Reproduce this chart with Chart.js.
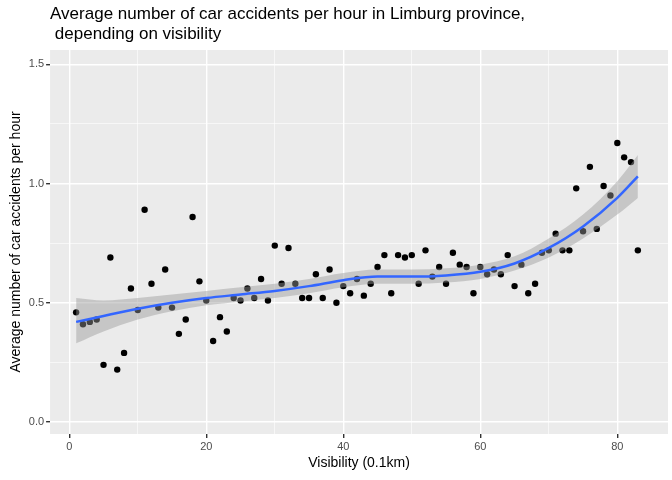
<!DOCTYPE html>
<html>
<head>
<meta charset="utf-8">
<script src="https://cdn.jsdelivr.net/npm/chart.js@4.4.0/dist/chart.umd.min.js"></script>
<style>
  body { margin: 0; background: #fff; }
  #wrap { width: 672px; height: 480px; }
</style>
</head>
<body>
<div id="wrap"><canvas id="c"></canvas></div>
<script>
// observed points: visibility (0.1km) vs average accidents per hour
const visibility = [];
for (let v = 1; v <= 83; v++) visibility.push(v);
const accidents = [0.46, 0.41, 0.42, 0.43, 0.24, 0.69, 0.22, 0.29, 0.56, 0.47,
  0.89, 0.58, 0.48, 0.64, 0.48, 0.37, 0.43, 0.86, 0.59, 0.51,
  0.34, 0.44, 0.38, 0.52, 0.51, 0.56, 0.52, 0.60, 0.51, 0.74,
  0.58, 0.73, 0.58, 0.52, 0.52, 0.62, 0.52, 0.64, 0.50, 0.57,
  0.54, 0.60, 0.53, 0.58, 0.65, 0.70, 0.54, 0.70, 0.69, 0.70,
  0.58, 0.72, 0.61, 0.65, 0.58, 0.71, 0.66, 0.65, 0.54, 0.65,
  0.62, 0.64, 0.62, 0.70, 0.57, 0.66, 0.54, 0.58, 0.71, 0.72,
  0.79, 0.72, 0.72, 0.98, 0.80, 1.07, 0.81, 0.99, 0.95, 1.17,
  1.11, 1.09, 0.72];

// loess smooth and its confidence band
const smoothX = [1, 5, 10, 15, 20, 25, 30, 35, 40, 45, 50, 55, 60, 65, 70, 75, 80, 83];
const smoothY = [0.42, 0.445, 0.475, 0.50, 0.52, 0.535, 0.55, 0.57, 0.595, 0.61, 0.61, 0.615, 0.63, 0.665, 0.73, 0.82, 0.94, 1.03];
const bandLow = [0.33, 0.38, 0.43, 0.465, 0.49, 0.505, 0.52, 0.54, 0.565, 0.58, 0.58, 0.585, 0.60, 0.635, 0.69, 0.77, 0.87, 0.94];
const bandHigh = [0.52, 0.51, 0.52, 0.535, 0.55, 0.565, 0.58, 0.60, 0.625, 0.64, 0.64, 0.645, 0.66, 0.695, 0.77, 0.87, 1.01, 1.12];
const titleLines = ['Average number of car accidents per hour in Limburg province,', ' depending on visibility'];

const pts = (xs, ys) => xs.map((x, i) => ({ x: x, y: ys[i] }));

// grey panel + title aligned with the panel, ggplot style
const panelBg = {
  id: 'panelBg',
  beforeDraw(chart) {
    const a = chart.chartArea, ctx = chart.ctx;
    ctx.save();
    ctx.fillStyle = '#EBEBEB';
    ctx.fillRect(a.left, a.top, a.right - a.left, a.bottom - a.top);
    ctx.fillStyle = '#000';
    ctx.font = '17px "Liberation Sans"';
    ctx.textBaseline = 'top';
    titleLines.forEach((t, i) => ctx.fillText(t, a.left, 6 + i * 20));
    ctx.restore();
  }
};

const isMajor = (v, step) => Math.abs(v / step - Math.round(v / step)) < 1e-6;

new Chart(document.getElementById('c'), {
  type: 'scatter',
  data: {
    datasets: [
      { data: pts(smoothX, smoothY), showLine: true, borderColor: '#3366FF', borderWidth: 2.5,
        pointRadius: 0, tension: 0.4, cubicInterpolationMode: 'monotone' },
      { data: pts(smoothX, bandLow), showLine: true, borderWidth: 0, borderColor: 'transparent',
        pointRadius: 0, tension: 0.4, cubicInterpolationMode: 'monotone' },
      { data: pts(smoothX, bandHigh), showLine: true, borderWidth: 0, borderColor: 'transparent',
        pointRadius: 0, tension: 0.4, cubicInterpolationMode: 'monotone',
        fill: '-1', backgroundColor: 'rgba(153,153,153,0.45)' },
      { data: pts(visibility, accidents), pointRadius: 3.2, pointBackgroundColor: '#000',
        pointBorderWidth: 0, borderColor: '#000' }
    ]
  },
  options: {
    responsive: true,
    maintainAspectRatio: false,
    animation: false,
    layout: { padding: { left: 4, right: 4, top: 50, bottom: 4 } },
    plugins: {
      legend: { display: false },
      tooltip: { enabled: false },
      title: { display: false }
    },
    scales: {
      x: {
        type: 'linear', min: -2.8, max: 87.4,
        afterBuildTicks(ax) { ax.ticks = [0, 10, 20, 30, 40, 50, 60, 70, 80].map(v => ({ value: v })); },
        ticks: { color: '#4D4D4D', font: { family: 'Liberation Sans', size: 11 }, padding: 2,
          callback: v => isMajor(v, 20) ? String(v) : '' },
        grid: { color: '#fff', lineWidth: c => isMajor(c.tick.value, 20) ? 1.4 : 0.6,
          tickLength: 4, tickColor: c => isMajor(c.tick.value, 20) ? '#333' : 'transparent' },
        border: { display: false },
        title: { display: true, text: 'Visibility (0.1km)', color: '#000',
          font: { family: 'Liberation Sans', size: 14 }, padding: { top: 0 } }
      },
      y: {
        min: -0.05, max: 1.56,
        afterBuildTicks(ax) { ax.ticks = [0, 0.25, 0.5, 0.75, 1, 1.25, 1.5].map(v => ({ value: v })); },
        ticks: { color: '#4D4D4D', font: { family: 'Liberation Sans', size: 11 }, padding: 2,
          callback: v => isMajor(v, 0.5) ? v.toFixed(1) : '' },
        grid: { color: '#fff', lineWidth: c => isMajor(c.tick.value, 0.5) ? 1.4 : 0.6,
          tickLength: 4, tickColor: c => isMajor(c.tick.value, 0.5) ? '#333' : 'transparent' },
        border: { display: false },
        title: { display: true, text: 'Average number of car accidents per hour', color: '#000',
          font: { family: 'Liberation Sans', size: 14 }, padding: { bottom: 2 } }
      }
    }
  },
  plugins: [panelBg]
});
</script>
</body>
</html>
